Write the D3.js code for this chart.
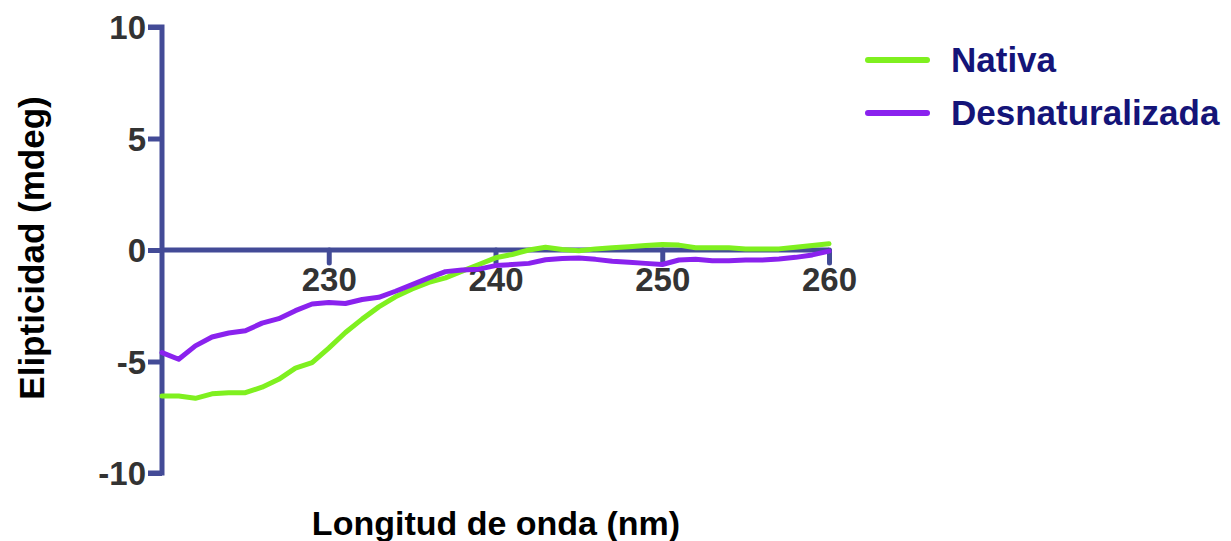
<!DOCTYPE html>
<html>
<head>
<meta charset="utf-8">
<script src="https://cdn.jsdelivr.net/npm/d3@7"></script>
<style>
  html, body { margin: 0; padding: 0; background: #fff; }
  svg { display: block; }
  text { font-family: "Liberation Sans", Arial, sans-serif; font-weight: bold; }
</style>
</head>
<body>
<svg id="chart" width="1231" height="541"></svg>
<script>
// Wavelength (nm)
const wavelength = d3.range(220, 261, 1);

// Ellipticity (mdeg), native protein
const nativa = [
  -6.55, -6.55, -6.65, -6.45, -6.40, -6.40, -6.15, -5.80, -5.30, -5.05,
  -4.40, -3.70, -3.10, -2.55, -2.10, -1.75, -1.45, -1.25, -0.95, -0.65,
  -0.35, -0.20,  0.00,  0.12,  0.02, -0.03,  0.05,  0.10,  0.15,  0.20,
   0.25,  0.22,  0.10,  0.10,  0.10,  0.05,  0.05,  0.05,  0.12,  0.20,
   0.28
];

// Ellipticity (mdeg), denatured protein
const desnaturalizada = [
  -4.60, -4.90, -4.30, -3.90, -3.72, -3.62, -3.28, -3.08, -2.72, -2.42,
  -2.35, -2.40, -2.22, -2.12, -1.85, -1.55, -1.25, -0.97, -0.90, -0.86,
  -0.70, -0.65, -0.60, -0.44, -0.38, -0.36, -0.42, -0.50, -0.55, -0.60,
  -0.65, -0.45, -0.42, -0.48, -0.48, -0.45, -0.45, -0.40, -0.33, -0.22,
  -0.05
];

const xTicks = [230, 240, 250, 260];
const yTicks = [-10, -5, 0, 5, 10];

const seriesNames = ["Nativa", "Desnaturalizada"];
const seriesColors = ["#7ff01f", "#8a22ee"];

const axisColor = "#434b97";
const tickTextColor = "#333333";
const legendTextColor = "#141478";

const svg = d3.select("#chart");

const x = d3.scaleLinear().domain([220, 260]).range([162, 829]);
const y = d3.scaleLinear().domain([-10, 10]).range([473, 27]);

// Plain hyphen for negative tick labels
const fmt = d => String(d);

// Y axis
const yAxis = svg.append("g")
  .attr("transform", `translate(${x(220)},0)`)
  .call(d3.axisLeft(y).tickValues(yTicks).tickSize(14).tickPadding(2).tickFormat(fmt));
yAxis.select(".domain")
  .attr("d", `M-14,${y(10)}H0V${y(-10)}H-14`)
  .attr("stroke", axisColor).attr("stroke-width", 5).attr("fill", "none")
  .attr("stroke-linejoin", "miter");
yAxis.selectAll(".tick line").attr("stroke", axisColor).attr("stroke-width", 5);
yAxis.selectAll(".tick text")
  .attr("fill", tickTextColor).style("font-size", "33px")
  .attr("dy", "0.36em");

// X axis sitting on y = 0
const xAxis = svg.append("g")
  .attr("transform", `translate(0,${y(0)})`)
  .call(d3.axisBottom(x).tickValues(xTicks).tickSize(13).tickPadding(5).tickFormat(fmt));
xAxis.select(".domain")
  .attr("d", `M${x(220)},0H${x(260)}`)
  .attr("stroke", axisColor).attr("stroke-width", 5).attr("fill", "none");
xAxis.selectAll(".tick line").attr("stroke", axisColor).attr("stroke-width", 5)
  .attr("stroke-linecap", "round");
xAxis.selectAll(".tick text")
  .attr("fill", tickTextColor).style("font-size", "33px");

// Curves
const line = d3.line()
  .x((d, i) => x(wavelength[i]))
  .y(d => y(d));

[nativa, desnaturalizada].forEach((vals, k) => {
  svg.append("path")
    .datum(vals)
    .attr("d", line)
    .attr("fill", "none")
    .attr("stroke", seriesColors[k])
    .attr("stroke-width", 5)
    .attr("stroke-linejoin", "round")
    .attr("stroke-linecap", "round");
});

// Axis titles
svg.append("text")
  .attr("x", 496).attr("y", 535)
  .attr("text-anchor", "middle")
  .attr("fill", "#000")
  .style("font-size", "34px")
  .text("Longitud de onda (nm)");

svg.append("text")
  .attr("transform", `translate(44,248) rotate(-90)`)
  .attr("text-anchor", "middle")
  .attr("fill", "#000")
  .style("font-size", "35px")
  .text("Elipticidad (mdeg)");

// Legend
const legend = svg.append("g");
seriesNames.forEach((name, k) => {
  const ly = 60 + k * 53;
  legend.append("line")
    .attr("x1", 868).attr("x2", 927)
    .attr("y1", ly).attr("y2", ly)
    .attr("stroke", seriesColors[k])
    .attr("stroke-width", 6)
    .attr("stroke-linecap", "round");
  legend.append("text")
    .attr("x", 951).attr("y", ly + 12)
    .attr("fill", legendTextColor)
    .style("font-size", "35px")
    .text(name);
});
</script>
</body>
</html>
